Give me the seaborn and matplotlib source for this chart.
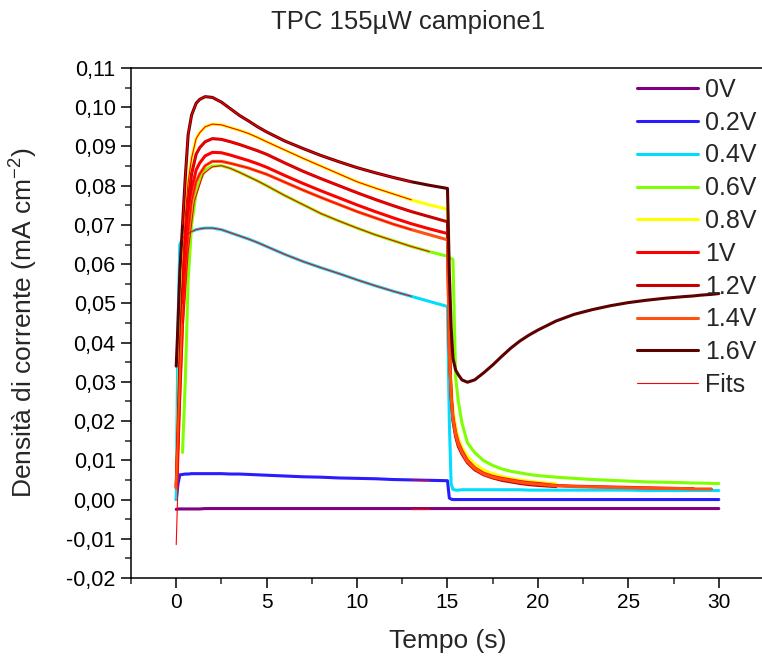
import numpy as np
import pandas as pd
import matplotlib
matplotlib.use("Agg")
import matplotlib.pyplot as plt
from matplotlib.lines import Line2D
from matplotlib.ticker import MultipleLocator, FuncFormatter
import seaborn as sns

# ---------------- data ----------------
SERIES = ["0V", "0.2V", "0.4V", "0.6V", "0.8V", "1V", "1.2V", "1.4V", "1.6V"]
COLORS = ["#800080", "#2a1cff", "#00ddff", "#7fff00", "#ffff00",
          "#ff0000", "#c80000", "#ff5010", "#5c0000"]

N = np.nan
# light-on phase time grid (s)
T_ON = [0.0, 0.1, 0.2, 0.35, 0.5, 0.66, 0.85, 1.1, 1.3, 1.6, 2.0, 2.5, 3.0, 3.5, 4.0, 4.5,
        5.0, 6.0, 7.0, 8.0, 9.0, 10.0, 11.0, 12.0, 13.0, 14.0, 15.0]
ON_0V  = [-0.0025, -0.0024, -0.0024, -0.0024, -0.0024, -0.0024, -0.0024, -0.0024, -0.0024,
          -0.0023, -0.0023, -0.0023, -0.0023, -0.0023, -0.0023, -0.0023, -0.0023, -0.0023,
          -0.0023, -0.0023, -0.0023, -0.0023, -0.0023, -0.0023, -0.0023, -0.0023, -0.0023]
ON_02V = [0.0000, 0.0040, 0.0063, 0.0064, 0.0065, 0.0065, 0.0066, 0.0066, 0.0066, 0.0066,
          0.0066, 0.0066, 0.0065, 0.0065, 0.0064, 0.0063, 0.0062, 0.0060, 0.0058, 0.0057,
          0.0055, 0.0054, 0.0053, 0.0051, 0.0050, 0.0049, 0.0048]
ON_04V = [0.0000, 0.0450, 0.0650, 0.0665, 0.0672, 0.0678, 0.0683, 0.0688, 0.0690, 0.0692,
          0.0692, 0.0688, 0.0680, 0.0672, 0.0664, 0.0655, 0.0645, 0.0625, 0.0607, 0.0591,
          0.0576, 0.0560, 0.0545, 0.0531, 0.0518, 0.0505, 0.0492]
ON_06V = [N, N, N, 0.0120, 0.0300, 0.0560, 0.0700, 0.0780, 0.0812, 0.0840,
          0.0850, 0.0851, 0.0844, 0.0834, 0.0823, 0.0812, 0.0800, 0.0775, 0.0752, 0.0729,
          0.0710, 0.0692, 0.0675, 0.0660, 0.0645, 0.0632, 0.0620]
ON_08V = [0.0030, 0.0200, 0.0400, 0.0580, 0.0720, 0.0810, 0.0870, 0.0920, 0.0935, 0.0950,
          0.0957, 0.0955, 0.0948, 0.0941, 0.0933, 0.0923, 0.0912, 0.0891, 0.0870, 0.0850,
          0.0830, 0.0810, 0.0794, 0.0779, 0.0764, 0.0751, 0.0740]
ON_1V  = [0.0035, 0.0160, 0.0320, 0.0500, 0.0620, 0.0720, 0.0790, 0.0840, 0.0858, 0.0876,
          0.0885, 0.0884, 0.0878, 0.0871, 0.0864, 0.0856, 0.0847, 0.0826, 0.0806, 0.0787,
          0.0769, 0.0751, 0.0734, 0.0718, 0.0703, 0.0690, 0.0678]
ON_12V = [0.0030, 0.0180, 0.0350, 0.0530, 0.0660, 0.0760, 0.0830, 0.0880, 0.0897, 0.0912,
          0.0920, 0.0918, 0.0912, 0.0905, 0.0897, 0.0889, 0.0880, 0.0858, 0.0837, 0.0818,
          0.0800, 0.0782, 0.0765, 0.0749, 0.0734, 0.0721, 0.0708]
ON_14V = [0.0030, 0.0140, 0.0280, 0.0450, 0.0580, 0.0680, 0.0760, 0.0810, 0.0830, 0.0851,
          0.0862, 0.0862, 0.0857, 0.0851, 0.0845, 0.0837, 0.0829, 0.0809, 0.0789, 0.0770,
          0.0752, 0.0734, 0.0718, 0.0702, 0.0688, 0.0675, 0.0662]
ON_16V = [0.0340, 0.0450, 0.0580, 0.0700, 0.0820, 0.0930, 0.0980, 0.1010, 0.1020, 0.1027,
          0.1025, 0.1013, 0.0996, 0.0979, 0.0965, 0.0950, 0.0937, 0.0914, 0.0895, 0.0877,
          0.0861, 0.0846, 0.0833, 0.0821, 0.0810, 0.0801, 0.0793]

# light-off phase time grid (s)
T_OFF = [15.1, 15.2, 15.3, 15.45, 15.6, 15.8, 16.1, 16.5, 17.0, 17.5, 18.0, 18.5, 19.0,
         19.5, 20.0, 21.0, 22.0, 23.0, 24.0, 25.0, 26.0, 27.0, 28.0, 28.6, 29.0, 29.6, 30.0]
OFF_0V  = [-0.0023] * 27
OFF_02V = [0.0004, 0.0001] + [0.0000] * 25
OFF_04V = [0.0200, 0.0040, 0.0026, 0.0024, 0.0024, 0.0025, 0.0025, 0.0025, 0.0025, 0.0025,
           0.0025, 0.0025, 0.0025, 0.0024, 0.0024, 0.0024, 0.0024, 0.0024, 0.0024, 0.0024,
           0.0023, 0.0023, 0.0023, 0.0023, 0.0023, 0.0023, 0.0023]
OFF_06V = [0.0617, 0.0614, 0.0612, 0.0310, 0.0250, 0.0195, 0.0145, 0.0120, 0.0099, 0.0087,
           0.0078, 0.0072, 0.0068, 0.0064, 0.0061, 0.0057, 0.0054, 0.0051, 0.0049, 0.0047,
           0.0045, 0.0044, 0.0043, 0.0042, 0.0042, 0.0041, 0.0041]
OFF_08V = [0.0420, 0.0290, 0.0230, 0.0185, 0.0155, 0.0133, 0.0110, 0.0090, 0.0075, 0.0066,
           0.0059, 0.0054, 0.0050, 0.0047, 0.0044, 0.0040, N, N, N, N,
           N, N, N, N, N, N, N]
OFF_1V  = [0.0380, 0.0270, 0.0210, 0.0170, 0.0145, 0.0124, 0.0100, 0.0081, 0.0067, 0.0059,
           0.0054, 0.0050, 0.0046, 0.0043, 0.0041, 0.0036, 0.0034, 0.0033, 0.0032, 0.0031,
           0.0030, 0.0029, 0.0028, 0.0028, N, N, N]
OFF_12V = [0.0400, 0.0260, 0.0200, 0.0160, 0.0135, 0.0116, 0.0094, 0.0076, 0.0063, 0.0055,
           0.0049, 0.0045, 0.0041, 0.0038, 0.0036, 0.0033, N, N, N, N,
           N, N, N, N, N, N, N]
OFF_14V = [0.0370, 0.0265, 0.0205, 0.0166, 0.0141, 0.0120, 0.0097, 0.0079, 0.0065, 0.0057,
           0.0052, 0.0048, 0.0044, 0.0041, 0.0039, 0.0035, 0.0033, 0.0032, 0.0031, 0.0030,
           0.0029, 0.0028, 0.0028, 0.0027, 0.0027, 0.0027, N]
OFF_16V = [0.0580, 0.0440, 0.0360, 0.0330, 0.0318, 0.0305, 0.0299, 0.0305, 0.0323, 0.0343,
           0.0365, 0.0386, 0.0404, 0.0419, 0.0432, 0.0455, 0.0472, 0.0484, 0.0494, 0.0502,
           0.0508, 0.0513, 0.0517, 0.0519, 0.0521, 0.0523, 0.0525]

ON = [ON_0V, ON_02V, ON_04V, ON_06V, ON_08V, ON_1V, ON_12V, ON_14V, ON_16V]
OFF = [OFF_0V, OFF_02V, OFF_04V, OFF_06V, OFF_08V, OFF_1V, OFF_12V, OFF_14V, OFF_16V]
for a, b in zip(ON, OFF):
    assert len(a) == len(T_ON) and len(b) == len(T_OFF)

# fits (thin red lines) on the light-on part: start / end time per series
FIT_START = [13.0, 13.0, 0.35, 2.5, 0.35, 0.35, 0.35, 0.35, 0.35]
FIT_END = [14.0, 14.0, 13.0, 14.0, 13.0, 13.0, 13.0, 13.0, 13.0]
# the 0.6V fit starts below zero before joining the data
FIT06_T = [0.0, 0.2, 0.4, 0.66, 1.0, 1.5, 2.0]
FIT06_J = [-0.0115, 0.0200, 0.0450, 0.0630, 0.0760, 0.0830, 0.0848]

# ---------------- build tables ----------------
rows = []
for name, on, off in zip(SERIES, ON, OFF):
    for t, j in zip(T_ON + T_OFF, on + off):
        if not np.isnan(j):
            rows.append((name, t, j))
df = pd.DataFrame(rows, columns=["series", "t", "j"])

frows = []
for name, on, t0, t1 in zip(SERIES, ON, FIT_START, FIT_END):
    if name == "0.6V":
        for t, j in zip(FIT06_T, FIT06_J):
            frows.append((name, t, j))
    for t, j in zip(T_ON, on):
        if t0 <= t <= t1 and not np.isnan(j):
            frows.append((name, t, j))
dfit = pd.DataFrame(frows, columns=["series", "t", "j"])

# ---------------- plot ----------------
sns.set_theme(style="ticks")
plt.rcParams["font.family"] = ["Liberation Sans", "DejaVu Sans"]

W, H = 762, 662
fig = plt.figure(figsize=(W / 100, H / 100), dpi=100)
ax = fig.add_axes([131 / W, 84 / H, (764 - 131) / W, 510 / H])

palette = dict(zip(SERIES, COLORS))
sns.lineplot(data=df, x="t", y="j", hue="series", hue_order=SERIES, palette=palette,
             estimator=None, sort=False, lw=2.2, legend=False, ax=ax,
             solid_joinstyle="round")
sns.lineplot(data=dfit, x="t", y="j", units="series", estimator=None, sort=False,
             color="#ff0000", lw=0.8, legend=False, ax=ax)

ax.set_xlim(-2.5, 32.5)
ax.set_ylim(-0.02, 0.11)
ax.xaxis.set_major_locator(MultipleLocator(5))
ax.xaxis.set_minor_locator(MultipleLocator(2.5))
ax.yaxis.set_major_locator(MultipleLocator(0.01))
ax.yaxis.set_minor_locator(MultipleLocator(0.005))
ax.yaxis.set_major_formatter(FuncFormatter(lambda v, p: f"{round(v, 2) + 0.0:.2f}".replace(".", ",")))
ax.xaxis.set_major_formatter(FuncFormatter(lambda v, p: f"{v:.0f}"))

for s in ["left", "bottom", "top"]:
    ax.spines[s].set_linewidth(1.1)
    ax.spines[s].set_color("black")
ax.spines["right"].set_visible(False)
ax.tick_params(which="major", direction="out", length=7, width=1.1, labelsize=15,
               colors="black", top=False, right=False, pad=4)
ax.tick_params(axis="y", which="major", labelsize=15.5)
ax.tick_params(which="minor", direction="out", length=4, width=1.1, top=False, right=False)

ax.set_xlabel("Tempo (s)", fontsize=19, labelpad=12)
ax.set_ylabel("Densità di corrente (mA cm$^{\\mathregular{-2}}$)", fontsize=19)
ax.yaxis.set_label_coords(-0.145, 0.5)
fig.text(408 / W, 1 - 22 / H, "TPC 155µW campione1", ha="center", va="center", fontsize=18.5)

handles = [Line2D([], [], color=c, lw=2.2) for c in COLORS]
handles.append(Line2D([], [], color="#ff0000", lw=0.8))
labels = SERIES + ["Fits"]
leg = ax.legend(handles, labels, loc="upper left", bbox_to_anchor=(627 / W, 1 - 68 / H),
                bbox_transform=fig.transFigure, frameon=False, fontsize=18,
                handlelength=2.45, handletextpad=0.28, labelspacing=0.35, borderaxespad=0)

fig.savefig("out.png", dpi=100)
